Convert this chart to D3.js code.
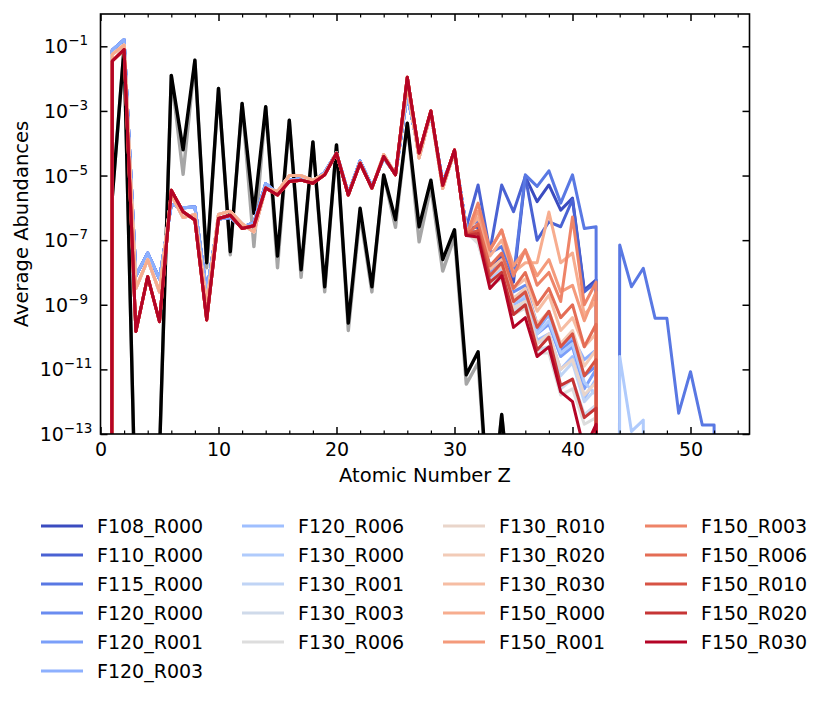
<!DOCTYPE html>
<html>
<head>
<meta charset="utf-8">
<script src="https://cdn.jsdelivr.net/npm/d3@7"></script>
<style>
body { margin: 0; background: #fff; }
text { font-family: "DejaVu Sans", sans-serif; fill: #000; }
</style>
</head>
<body>
<div id="chart"></div>
<script>
// abundances are indexed by atomic number Z (index 0 = Z 0)
// shared part, Z = 0..31
var coreBlue = [0, 7.6e-2, 1.6e-1, 7.9e-9, 4.0e-8, 6.3e-9, 1.26e-6, 1.0e-6, 1.07e-6, 2.5e-9,
    4.5e-7, 5.0e-7, 2.5e-7, 3.5e-7, 5.6e-6, 2.8e-6, 7.1e-6, 7.9e-6, 6.3e-6, 1.26e-5,
    5.0e-5, 2.8e-6, 2.8e-5, 4.5e-6, 3.5e-5, 1.1e-5, 3.2e-3, 5.0e-5, 7.9e-4, 6.3e-6,
    5.0e-5, 2.5e-7];
var coreMid = [0, 5.6e-2, 1.1e-1, 3.2e-9, 2.5e-8, 2.5e-9, 2.5e-6, 5.0e-7, 6.3e-7, 1.0e-9,
    6.3e-7, 7.9e-7, 3.2e-7, 1.8e-7, 4.0e-6, 3.2e-6, 1.0e-5, 1.0e-5, 7.1e-6, 1.1e-5,
    5.0e-5, 2.5e-6, 2.5e-5, 4.0e-6, 4.5e-5, 1.1e-5, 6.3e-3, 3.5e-5, 8.9e-4, 4.0e-6,
    5.6e-5, 1.8e-7];
var coreRed = [0, 3.5e-2, 7.9e-2, 1.5e-10, 7.4e-9, 3.0e-10, 3.5e-6, 7.6e-7, 4.2e-7, 3.4e-10,
    4.7e-7, 5.9e-7, 2.3e-7, 2.8e-7, 4.1e-6, 2.5e-6, 6.5e-6, 7.2e-6, 5.8e-6, 1.05e-5,
    4.9e-5, 2.5e-6, 2.4e-5, 4.1e-6, 3.9e-5, 1.05e-5, 1.1e-2, 5.0e-5, 1.0e-3, 5.0e-6,
    6.2e-5, 1.4e-7];

// heavy element tails, Z = 32 onwards
var tail_F108_R000 = [2.5e-7, 1.6e-8, 3.2e-8, 5.0e-9, 9.3e-6, 1.55e-6, 5.1e-6, 8.5e-7, 2.0e-6, 2.9e-9, 5.9e-9, 0];
var tail_F110_R000 = [5.1e-6, 4.5e-8, 5.1e-6, 7.6e-7, 9.3e-6, 1.0e-7, 3.7e-7, 2.6e-7, 1.8e-6, 2.5e-9, 5.0e-9, 0];
var tail_F115_R000 = [4.0e-7, 4.0e-8, 6.3e-8, 7.4e-9, 1.05e-5, 4.6e-6, 1.4e-5, 1.4e-6, 1.05e-5, 2.3e-7, 2.6e-7, 0,
    7.1e-8, 3.6e-9, 1.35e-8, 3.8e-10, 3.8e-10, 4.4e-13, 8.5e-12, 1.9e-13, 1.9e-13, 0];
var tail_F120_R000 = [1.26e-7, 1.26e-8, 2.0e-8, 2.5e-9, 4.0e-9, 2.5e-10, 5.0e-10, 4.0e-11, 7.9e-11, 6.3e-12, 1.26e-11, 0];
var tail_F120_R001 = [1.6e-7, 1.0e-8, 1.6e-8, 1.6e-9, 2.5e-9, 1.26e-10, 2.5e-10, 2.5e-11, 5.0e-11, 2.5e-12, 1.0e-11, 0];
var tail_F120_R003 = [1.26e-7, 7.9e-9, 1.26e-8, 1.26e-9, 2.0e-9, 1.6e-10, 5.0e-10, 5.0e-11, 1.0e-10, 2.0e-11, 4.0e-11, 0];
var tail_F120_R006 = [1.0e-7, 6.3e-9, 1.0e-8, 1.0e-9, 1.6e-9, 7.9e-11, 1.26e-10, 1.0e-11, 2.5e-11, 1.26e-12, 5.0e-12, 0];
var tail_F130_R000 = [1.0e-7, 6.3e-9, 1.26e-8, 1.26e-9, 2.0e-9, 1.26e-10, 3.2e-10, 3.2e-11, 6.3e-11, 4.0e-12, 1.6e-12, 0,
    2.5e-11, 1.2e-13, 2.7e-13, 0];
var tail_F130_R001 = [1.0e-7, 5.0e-9, 1.0e-8, 7.9e-10, 1.26e-9, 6.3e-11, 1.0e-10, 6.3e-12, 1.6e-11, 1.0e-12, 2.5e-12, 0];
var tail_F130_R003 = [7.9e-8, 5.0e-9, 7.9e-9, 6.3e-10, 1.0e-9, 4.0e-11, 5.0e-11, 2.5e-12, 5.0e-12, 4.0e-13, 7.9e-13, 0];
var tail_F130_R006 = [7.9e-8, 4.0e-9, 6.3e-9, 5.0e-10, 7.9e-10, 3.2e-11, 3.2e-11, 1.6e-12, 2.5e-12, 2.0e-13, 3.2e-13, 0];
var tail_F130_R010 = [1.0e-7, 5.0e-9, 1.0e-8, 7.9e-10, 1.26e-9, 6.3e-11, 1.26e-10, 1.0e-11, 2.0e-11, 1.6e-12, 4.0e-12, 0];
var tail_F130_R020 = [1.26e-7, 7.9e-9, 1.6e-8, 1.6e-9, 3.2e-9, 2.5e-10, 6.3e-10, 6.3e-11, 1.6e-10, 1.26e-11, 4.0e-11, 0];
var tail_F130_R030 = [1.6e-7, 1.26e-8, 2.5e-8, 3.2e-9, 6.3e-9, 6.3e-10, 2.0e-9, 1.6e-10, 4.0e-10, 5.0e-11, 1.26e-10, 0];
var tail_F150_R000 = [5.0e-7, 3.2e-8, 1.0e-7, 1.0e-8, 2.0e-8, 2.0e-8, 7.4e-7, 2.0e-8, 4.0e-8, 5.0e-10, 1.26e-9, 0];
var tail_F150_R001 = [7.9e-7, 5.0e-8, 2.0e-7, 1.6e-8, 5.0e-8, 7.9e-9, 2.5e-8, 2.5e-9, 4.0e-9, 3.2e-10, 2.5e-9, 0];
var tail_F150_R003 = [1.4e-6, 5.0e-8, 2.1e-7, 7.9e-9, 5.0e-8, 4.0e-9, 1.0e-8, 1.26e-9, 5.2e-7, 1.0e-9, 5.0e-9, 0];
var tail_F150_R006 = [3.2e-7, 1.6e-8, 4.0e-8, 3.2e-9, 1.0e-8, 1.0e-9, 3.2e-9, 4.0e-10, 1.0e-9, 5.0e-11, 2.5e-10, 0];
var tail_F150_R010 = [2.0e-7, 7.9e-9, 2.0e-8, 1.26e-9, 2.5e-9, 2.0e-10, 6.3e-10, 5.0e-11, 1.26e-10, 6.3e-12, 2.0e-11, 0];
var tail_F150_R020 = [1.6e-7, 5.0e-9, 1.0e-8, 5.0e-10, 1.0e-9, 4.0e-11, 1.0e-10, 3.2e-12, 5.0e-12, 3.2e-13, 6.3e-13, 0];
var tail_F150_R030 = [1.26e-7, 3.2e-9, 7.9e-9, 2.0e-10, 4.0e-10, 2.5e-11, 5.0e-11, 2.0e-12, 1.0e-12, 3.2e-14, 2.0e-13, 0];

// the unlabelled black runs (Z = 0..36)
var blackMain = [0, 2.2e-6, 8.9e-2, 1e-16, 1e-17, 2.5e-14, 1.26e-2, 6.3e-5, 3.7e-2, 2.0e-8,
    5.0e-3, 4.4e-8, 1.7e-3, 6.8e-7, 1.35e-3, 3.2e-8, 5.2e-4, 1.2e-8, 1.1e-4, 3.6e-9,
    8.9e-5, 2.7e-10, 9.8e-7, 3.6e-9, 1.05e-5, 4.3e-7, 4.2e-4, 2.6e-7, 7.2e-6, 2.5e-8,
    2.1e-7, 6.8e-12, 3.5e-11, 1e-16, 4.0e-13, 1e-16, 0];
var blackLow = [0, 2.2e-6, 8.9e-2, 1e-16, 1e-17, 2.5e-14, 1.26e-2, 1.1e-5, 3.7e-2, 1.4e-8,
    5.0e-3, 3.5e-8, 1.7e-3, 6.3e-8, 1.35e-3, 1.4e-8, 5.2e-4, 7.1e-9, 1.1e-4, 2.5e-9,
    8.9e-5, 1.6e-10, 6.3e-7, 2.5e-9, 1.05e-5, 2.5e-7, 4.2e-4, 8.9e-8, 4.5e-6, 1.1e-8,
    1.26e-7, 3.5e-12, 1.6e-11, 1e-16, 4.0e-13, 1e-16, 0];

var seriesNames = ["F108_R000", "F110_R000", "F115_R000", "F120_R000", "F120_R001", "F120_R003",
    "F120_R006", "F130_R000", "F130_R001", "F130_R003", "F130_R006",
    "F130_R010", "F130_R020", "F130_R030", "F150_R000", "F150_R001",
    "F150_R003", "F150_R006", "F150_R010", "F150_R020", "F150_R030"];
var seriesCores = [coreBlue, coreBlue, coreBlue, coreBlue, coreBlue, coreBlue,
    coreMid, coreMid, coreMid, coreMid, coreMid, coreMid, coreMid, coreMid, coreMid,
    coreRed, coreRed, coreRed, coreRed, coreRed, coreRed];
var seriesTails = [tail_F108_R000, tail_F110_R000, tail_F115_R000, tail_F120_R000, tail_F120_R001, tail_F120_R003,
    tail_F120_R006, tail_F130_R000, tail_F130_R001, tail_F130_R003, tail_F130_R006,
    tail_F130_R010, tail_F130_R020, tail_F130_R030, tail_F150_R000, tail_F150_R001,
    tail_F150_R003, tail_F150_R006, tail_F150_R010, tail_F150_R020, tail_F150_R030];

// coolwarm sampled at i/20
var palette = ["#3b4cc0", "#4a62d3", "#5978e3", "#6a8cf0", "#7b9ff9", "#8db0fe",
    "#9fbfff", "#b0cbfc", "#c0d4f5", "#cfdaea", "#dddddd",
    "#e9d5ca", "#f2cbb7", "#f6bda3", "#f7ad8f", "#f49a7b",
    "#ee8468", "#e46d55", "#d75344", "#c63535", "#b40426"];

var xMajor = [0, 10, 20, 30, 40, 50];
var yExponents = [-13, -11, -9, -7, -5, -3, -1];

var width = 830, height = 704;
var plotL = 100.5, plotR = 749.5, plotT = 14, plotB = 434;

var svg = d3.select("#chart").append("svg").attr("width", width).attr("height", height);

var x = d3.scaleLinear().domain([0, 55]).range([plotL, plotR]);
var y = d3.scaleLog().domain([1e-13, 1]).range([plotB, plotT]);

svg.append("defs").append("clipPath").attr("id", "plotClip")
    .append("rect").attr("x", plotL).attr("y", plotT)
    .attr("width", plotR - plotL).attr("height", plotB - plotT);

// zero abundances are pushed far below the axis like matplotlib's log clipping
var line = d3.line()
    .x(function (d, i) { return x(i); })
    .y(function (d) { return y(d > 0 ? d : 1e-300); });

var plot = svg.append("g").attr("clip-path", "url(#plotClip)");

plot.append("path").datum(blackLow)
    .attr("d", line).attr("fill", "none")
    .attr("stroke", "#000").attr("stroke-opacity", 0.35).attr("stroke-width", 3.4)
    .attr("stroke-linejoin", "round");
plot.append("path").datum(blackMain)
    .attr("d", line).attr("fill", "none")
    .attr("stroke", "#000").attr("stroke-width", 3.4)
    .attr("stroke-linejoin", "round");

for (var i = 0; i < seriesNames.length; i++) {
    plot.append("path").datum(seriesCores[i].concat(seriesTails[i]))
        .attr("d", line).attr("fill", "none")
        .attr("stroke", palette[i]).attr("stroke-width", 3)
        .attr("stroke-linejoin", "round");
}

// ticks point inwards on all four sides
var minor = d3.range(0, 56, 2).filter(function (d) { return d % 10 != 0; });

svg.append("g").attr("transform", "translate(0," + plotB + ")")
    .call(d3.axisBottom(x).tickValues(xMajor).tickSize(-7).tickPadding(9).tickFormat(d3.format("d")))
    .call(function (g) {
        g.select(".domain").remove();
        g.selectAll("line").attr("stroke-width", 1.5);
        g.selectAll("text").attr("font-size", "19px").attr("font-family", "DejaVu Sans");
    });
svg.append("g").attr("transform", "translate(0," + plotB + ")")
    .call(d3.axisBottom(x).tickValues(minor).tickSize(-3.5).tickFormat(""))
    .call(function (g) { g.select(".domain").remove(); g.selectAll("line").attr("stroke-width", 1.2); });
svg.append("g").attr("transform", "translate(0," + plotT + ")")
    .call(d3.axisTop(x).tickValues(xMajor).tickSize(-7).tickFormat(""))
    .call(function (g) { g.select(".domain").remove(); g.selectAll("line").attr("stroke-width", 1.5); });
svg.append("g").attr("transform", "translate(0," + plotT + ")")
    .call(d3.axisTop(x).tickValues(minor).tickSize(-3.5).tickFormat(""))
    .call(function (g) { g.select(".domain").remove(); g.selectAll("line").attr("stroke-width", 1.2); });

var yTickValues = yExponents.map(function (e) { return Math.pow(10, e); });
svg.append("g").attr("transform", "translate(" + plotL + ",0)")
    .call(d3.axisLeft(y).tickValues(yTickValues).tickSize(-7).tickFormat(""))
    .call(function (g) { g.select(".domain").remove(); g.selectAll("line").attr("stroke-width", 1.5); });
svg.append("g").attr("transform", "translate(" + plotR + ",0)")
    .call(d3.axisRight(y).tickValues(yTickValues).tickSize(-7).tickFormat(""))
    .call(function (g) { g.select(".domain").remove(); g.selectAll("line").attr("stroke-width", 1.5); });

// 10^n labels
yExponents.forEach(function (e) {
    var t = svg.append("text")
        .attr("x", 66).attr("y", y(Math.pow(10, e)) + 7)
        .attr("text-anchor", "middle").attr("font-size", "19px");
    t.append("tspan").text("10");
    t.append("tspan").attr("dy", -8).attr("font-size", "13.5px").text("\u2212" + Math.abs(e));
});

svg.append("rect").attr("x", plotL).attr("y", plotT)
    .attr("width", plotR - plotL).attr("height", plotB - plotT)
    .attr("fill", "none").attr("stroke", "#000").attr("stroke-width", 1.6);

svg.append("text").attr("x", (plotL + plotR) / 2).attr("y", 482)
    .attr("text-anchor", "middle").attr("font-size", "19.5px").text("Atomic Number Z");
svg.append("text").attr("transform", "translate(28," + ((plotT + plotB) / 2) + ") rotate(-90)")
    .attr("text-anchor", "middle").attr("font-size", "19.5px").text("Average Abundances");

// legend, 4 columns (6, 5, 5, 5 entries)
var colX = [41, 242, 443, 645];
var legend = svg.append("g");
for (var k = 0; k < seriesNames.length; k++) {
    var col = k < 6 ? 0 : Math.floor((k - 6) / 5) + 1;
    var row = k < 6 ? k : (k - 6) % 5;
    var ly = 526 + row * 29;
    legend.append("line")
        .attr("x1", colX[col]).attr("x2", colX[col] + 42)
        .attr("y1", ly).attr("y2", ly)
        .attr("stroke", palette[k]).attr("stroke-width", 2.8);
    legend.append("text")
        .attr("x", colX[col] + 56).attr("y", ly + 7)
        .attr("font-size", "19px").text(seriesNames[k]);
}
</script>
</body>
</html>
